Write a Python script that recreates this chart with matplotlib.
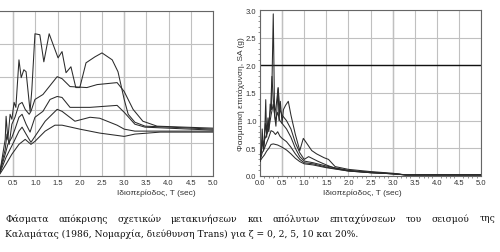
import numpy as np
import matplotlib
matplotlib.use("Agg")
import matplotlib.pyplot as plt
from matplotlib.ticker import MultipleLocator, FormatStrFormatter, FixedLocator

# damping ratios (%)
zeta = [0, 2, 5, 10, 20]

# relative displacement spectra (left panel), T in sec, SD in cm
sd_T = [
    [0, 0.20, 0.32, 0.34, 0.38, 0.43, 0.47, 0.52, 0.56, 0.63, 0.68, 0.74, 0.79, 0.88, 0.92, 0.99,
     1.10, 1.19, 1.31, 1.40, 1.51, 1.60, 1.69, 1.80, 1.91, 2.00, 2.14, 2.34, 2.50, 2.73, 2.86, 3.00,
     3.09, 3.24, 3.47, 4.03, 5.0],
    [0, 0.20, 0.32, 0.36, 0.41, 0.47, 0.54, 0.63, 0.70, 0.77, 0.86, 0.90, 0.99, 1.17, 1.33, 1.49,
     1.60, 1.78, 2.16, 2.39, 2.84, 3.00, 3.20, 3.42, 3.74, 5.0],
    [0, 0.20, 0.32, 0.38, 0.47, 0.54, 0.63, 0.70, 0.79, 0.88, 0.99, 1.17, 1.33, 1.49, 1.60, 1.78,
     2.23, 2.84, 3.00, 3.24, 3.47, 5.0],
    [0, 0.20, 0.34, 0.43, 0.52, 0.63, 0.70, 0.79, 0.90, 0.99, 1.22, 1.49, 1.60, 1.89, 2.23, 2.45,
     2.84, 3.00, 3.24, 5.0],
    [0, 0.20, 0.34, 0.47, 0.63, 0.77, 0.90, 0.99, 1.22, 1.44, 1.60, 2.00, 2.45, 3.00, 3.24, 3.81, 5.0],
]
sd_val = [
    [0, 1.2, 11.1, 18.1, 11.1, 18.7, 17.2, 22.3, 20.8, 35.2, 29.8, 32.2, 31.6, 19.6, 26.2, 43.1,
     42.8, 34.6, 43.1, 39.8, 35.8, 37.7, 31.3, 33.1, 26.8, 26.8, 34.3, 36.1, 37.3, 35.2, 31.6, 23.2,
     18.7, 16.3, 15.1, 14.8, 14.2],
    [0, 1.5, 8.1, 12.7, 9.6, 15.7, 17.8, 21.7, 22.3, 20.2, 18.7, 19.6, 23.2, 24.7, 27.4, 30.1,
     29.5, 27.1, 26.8, 27.7, 28.3, 25.6, 20.2, 16.6, 15.1, 14.5],
    [0, 1.2, 6.6, 9.6, 11.7, 14.2, 17.8, 18.7, 15.7, 13.3, 17.8, 19.6, 23.2, 24.1, 23.8, 20.8,
     20.8, 21.4, 19.3, 15.7, 14.8, 13.9],
    [0, 0.9, 5.7, 8.1, 10.5, 13.6, 14.8, 12.7, 10.2, 12.0, 16.6, 20.2, 19.6, 16.6, 17.8, 17.5,
     15.4, 14.2, 13.6, 13.6],
    [0, 0.6, 3.6, 6.6, 9.6, 11.1, 9.6, 10.5, 13.6, 15.4, 15.4, 14.2, 13.0, 12.0, 12.7, 13.3, 13.3],
]

# absolute acceleration spectra (right panel), T in sec, SA in g
sa_T = [
    [0, 0.03, 0.05, 0.08, 0.10, 0.13, 0.15, 0.18, 0.20, 0.23, 0.26, 0.30, 0.33, 0.36, 0.41, 0.43,
     0.46, 0.50, 0.53, 0.58, 0.64, 0.70, 0.80, 0.90, 0.98, 1.05, 1.17, 1.28, 1.45, 1.55, 1.70,
     2.0, 2.5, 3.0, 3.3, 4.0, 5.0],
    [0, 0.05, 0.08, 0.12, 0.15, 0.20, 0.24, 0.27, 0.30, 0.33, 0.37, 0.41, 0.45, 0.50, 0.60, 0.70,
     0.80, 0.90, 1.00, 1.10, 1.30, 1.50, 1.70, 2.0, 2.5, 3.0, 3.3, 4.0, 5.0],
    [0, 0.05, 0.10, 0.15, 0.20, 0.25, 0.30, 0.35, 0.40, 0.45, 0.50, 0.60, 0.70, 0.80, 0.90, 1.00,
     1.20, 1.50, 2.0, 2.5, 3.0, 3.3, 5.0],
    [0, 0.05, 0.10, 0.15, 0.20, 0.25, 0.30, 0.35, 0.40, 0.45, 0.50, 0.60, 0.70, 0.80, 0.90, 1.00,
     1.20, 1.50, 2.0, 2.5, 3.0, 3.3, 5.0],
    [0, 0.05, 0.10, 0.15, 0.20, 0.25, 0.30, 0.35, 0.40, 0.50, 0.60, 0.70, 0.80, 0.90, 1.00, 1.20,
     1.50, 2.0, 2.5, 3.0, 3.3, 5.0],
]
sa_val = [
    [0.27, 0.5, 0.85, 0.45, 0.6, 1.38, 0.7, 1.05, 0.8, 1.3, 1.2, 2.93, 1.1, 0.9, 1.58, 1.0,
     1.35, 0.95, 1.2, 1.28, 1.35, 1.1, 0.75, 0.46, 0.68, 0.6, 0.46, 0.4, 0.33, 0.3, 0.17,
     0.12, 0.08, 0.05, 0.02, 0.02, 0.02],
    [0.27, 0.65, 0.5, 0.95, 0.75, 1.0, 1.2, 1.8, 1.4, 1.1, 1.3, 1.6, 1.2, 1.1, 1.0, 0.85,
     0.6, 0.42, 0.3, 0.35, 0.27, 0.2, 0.14, 0.1, 0.07, 0.04, 0.02, 0.02, 0.02],
    [0.27, 0.55, 0.65, 0.75, 0.85, 1.1, 1.3, 1.0, 1.15, 1.0, 0.95, 0.85, 0.7, 0.5, 0.35, 0.27,
     0.24, 0.18, 0.1, 0.06, 0.04, 0.02, 0.02],
    [0.27, 0.42, 0.5, 0.6, 0.7, 0.82, 0.8, 0.75, 0.8, 0.72, 0.68, 0.62, 0.52, 0.4, 0.3, 0.24,
     0.22, 0.16, 0.09, 0.06, 0.04, 0.02, 0.02],
    [0.27, 0.33, 0.38, 0.45, 0.5, 0.57, 0.58, 0.57, 0.56, 0.52, 0.47, 0.4, 0.32, 0.26, 0.22, 0.2,
     0.15, 0.09, 0.06, 0.04, 0.02, 0.02],
]

xlabel = "Ιδιοπερίοδος, T (sec)"
ylabel_sa = "Φασματική επιτάχυνση, SA (g)"
caption1 = "Φάσματα απόκρισης σχετικών μετακινήσεων και απόλυτων επιταχύνσεων του σεισμού της"
caption2 = "Καλαμάτας (1986, Νομαρχία, διεύθυνση Trans) για ζ = 0, 2, 5, 10 και 20%."

plt.rcParams['font.family'] = ['Liberation Sans', 'DejaVu Sans']

W, H = 500, 253
fig = plt.figure(figsize=(W / 100, H / 100), dpi=100)

def px_axes(x0, y0, x1, y1):
    # pixel box -> figure fraction
    return fig.add_axes([x0 / W, 1 - y1 / H, (x1 - x0) / W, (y1 - y0) / H])

line_col = '#2b2b2b'
grid_col = '#c0c0c0'
dark_grid = '#909090'

def style(ax, label_x):
    ax.set_xlim(0, 5)
    ax.xaxis.set_major_locator(MultipleLocator(0.5))
    ax.xaxis.set_major_formatter(FormatStrFormatter('%.1f'))
    ax.grid(True, which='major', color=grid_col, lw=0.8)
    for xv in (0.5, 3.0):
        ax.axvline(xv, color=dark_grid, lw=0.9, zorder=1)
    ax.tick_params(which='major', length=0, labelsize=5.5, colors='#333333', pad=2.5)
    for s in ax.spines.values():
        s.set_color('#666666')
        s.set_linewidth(0.8)
    ax.set_xlabel(xlabel, fontsize=6, color='#333333')
    ax.xaxis.set_label_coords(label_x, -0.075)

# left: relative displacement (its y axis is cut off by the page edge)
ax1 = px_axes(-9, 12, 213, 177)
style(ax1, 0.743)
ax1.xaxis.set_major_locator(FixedLocator(np.arange(0.5, 5.01, 0.5)))
ax1.grid(True, axis='x', color=grid_col, lw=0.8)
ax1.set_ylim(0, 50)
ax1.yaxis.set_major_locator(MultipleLocator(10))
ax1.set_yticklabels([])
for t, v in zip(sd_T, sd_val):
    ax1.plot(t, v, color=line_col, lw=0.75, zorder=3)

# right: absolute acceleration
ax2 = px_axes(260, 11, 481, 177)
style(ax2, 0.462)
ax2.set_ylim(0, 3.0)
ax2.yaxis.set_major_locator(MultipleLocator(0.5))
ax2.yaxis.set_major_formatter(FormatStrFormatter('%.1f'))
ax2.xaxis.set_minor_locator(MultipleLocator(0.1))
ax2.yaxis.set_minor_locator(MultipleLocator(0.1))
ax2.tick_params(which='minor', length=1.5, width=0.5, color='#666666')
ax2.axhline(2.0, color='#111111', lw=1.0, zorder=2)
for t, v in zip(sa_T, sa_val):
    ax2.plot(t, v, color=line_col, lw=0.75, zorder=3)
ax2.set_ylabel(ylabel_sa, fontsize=6, color='#333333', labelpad=1)

# caption, first line justified across the width
cap_font = dict(family=['DejaVu Serif'], fontsize=6.6, color='#111111')
words = caption1.split(' ')
renderer = fig.canvas.get_renderer()
objs = [fig.text(0, 1 - 219 / H, w, va='center', ha='left', **cap_font) for w in words]
widths = [o.get_window_extent(renderer).width for o in objs]
x_left, x_right = 5, 495
gap = (x_right - x_left - sum(widths)) / (len(words) - 1)
x = x_left
for o, w in zip(objs, widths):
    o.set_x(x / W)
    x += w + gap
fig.text(x_left / W, 1 - 234 / H, caption2, va='center', ha='left', **cap_font)

fig.savefig("out.png", dpi=100)
